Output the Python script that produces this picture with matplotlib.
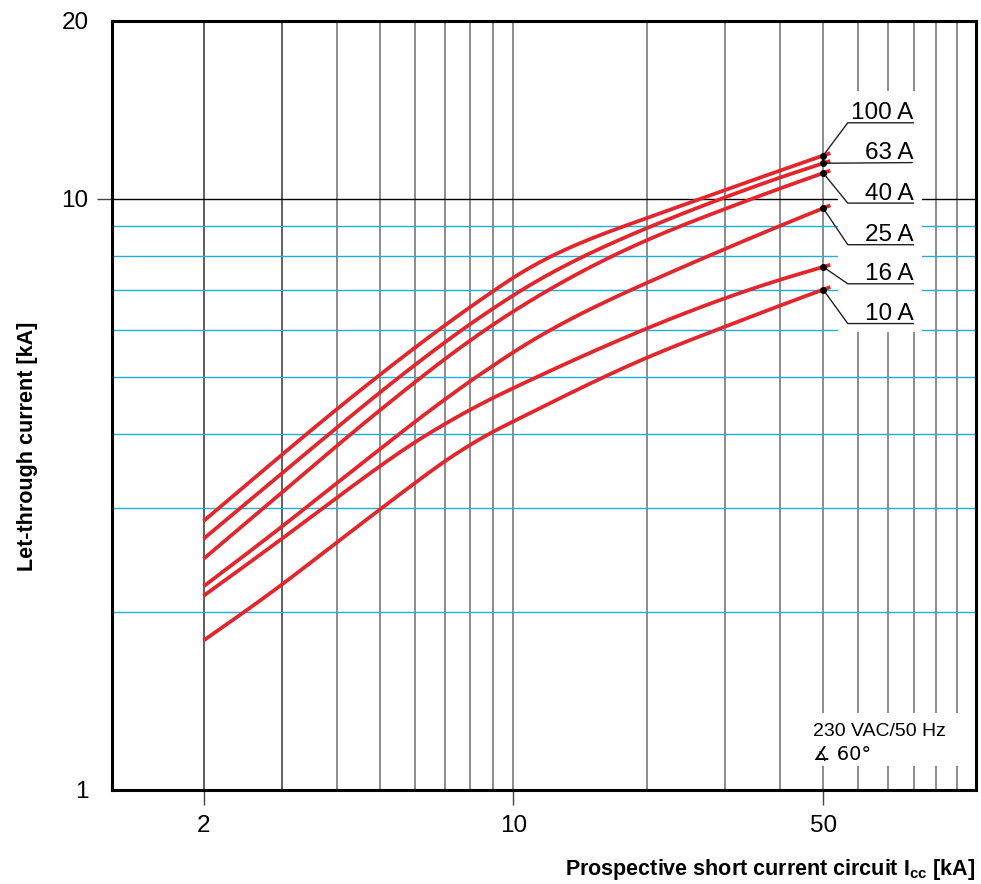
import numpy as np
import matplotlib
matplotlib.use("Agg")
import matplotlib.pyplot as plt
from matplotlib.patches import Rectangle

plt.rcParams['font.family'] = ['Liberation Sans', 'DejaVu Sans']
plt.rcParams['mathtext.fontset'] = 'custom'
plt.rcParams['mathtext.rm'] = 'Liberation Sans'
plt.rcParams['mathtext.bf'] = 'Liberation Sans:bold'

# ---- data (let-through current in kA) ----
icc = [2, 3, 4, 5, 6, 7, 8, 9, 10, 20, 30, 40, 50]
i_100 = [2.85, 3.686, 4.408, 5.038, 5.600, 6.104, 6.561, 6.975, 7.353, 9.273, 10.34, 11.16, 11.83]
i_63 = [2.66, 3.429, 4.102, 4.702, 5.236, 5.713, 6.140, 6.520, 6.865, 8.917, 10.05, 10.86, 11.48]
i_40 = [2.46, 3.182, 3.821, 4.388, 4.895, 5.353, 5.760, 6.124, 6.448, 8.507, 9.607, 10.41, 11.05]
i_25 = [2.21, 2.787, 3.305, 3.771, 4.195, 4.574, 4.915, 5.220, 5.500, 7.205, 8.221, 9.00, 9.636]
i_16 = [2.13, 2.658, 3.122, 3.529, 3.874, 4.157, 4.398, 4.604, 4.783, 6.033, 6.785, 7.294, 7.667]
i_10 = [1.79, 2.224, 2.624, 2.982, 3.306, 3.595, 3.836, 4.035, 4.201, 5.383, 6.075, 6.597, 7.018]
series = [i_100, i_63, i_40, i_25, i_16, i_10]
labels = ["100 A", "63 A", "40 A", "25 A", "16 A", "10 A"]
label_y = [13.44, 11.51, 9.83, 8.36, 7.18, 6.15]

x_ticks = [2, 10, 50]
y_ticks = [1, 10, 20]
x_grid = [2, 3, 4, 5, 6, 7, 8, 9, 10, 20, 30, 40, 50, 60, 70, 80, 90, 100]
y_grid_cyan = [2, 3, 4, 5, 6, 7, 8, 9]

RED = '#e3262b'
CYAN = '#1eaee2'


def natural_spline(x, y, xn):
    """Natural cubic spline through (x, y); linear beyond the last point."""
    x = np.asarray(x, float)
    y = np.asarray(y, float)
    n = len(x)
    h = np.diff(x)
    A = np.zeros((n, n))
    r = np.zeros(n)
    A[0, 0] = A[-1, -1] = 1.0
    for i in range(1, n - 1):
        A[i, i - 1] = h[i - 1]
        A[i, i] = 2 * (h[i - 1] + h[i])
        A[i, i + 1] = h[i]
        r[i] = 6 * ((y[i + 1] - y[i]) / h[i] - (y[i] - y[i - 1]) / h[i - 1])
    M = np.linalg.solve(A, r)
    out = np.empty_like(xn)
    for j, xv in enumerate(xn):
        if xv >= x[-1]:
            k = n - 2
            slope = (y[-1] - y[-2]) / h[-1] + h[-1] * (2 * M[-1] + M[-2]) / 6
            out[j] = y[-1] + slope * (xv - x[-1])
            continue
        k = min(max(np.searchsorted(x, xv, side='right') - 1, 0), n - 2)
        a = x[k + 1] - xv
        b = xv - x[k]
        out[j] = (M[k] * a**3 / (6 * h[k]) + M[k + 1] * b**3 / (6 * h[k])
                  + (y[k] / h[k] - M[k] * h[k] / 6) * a
                  + (y[k + 1] / h[k] - M[k + 1] * h[k] / 6) * b)
    return out


fig = plt.figure(figsize=(9.81, 8.84), dpi=100)
ax = fig.add_axes([112/981, 1-790/884, (975.7-112)/981, (790-20.7)/884])
ax.set_xscale('log')
ax.set_yscale('log')
ax.set_xlim(1.243, 110.4)
ax.set_ylim(1, 20)

# grid
for g in x_grid:
    col = '#333333' if g in (2, 3) else '#6e6e6e'
    ax.axvline(g, color=col, lw=1.1, zorder=1)
for g in y_grid_cyan:
    ax.axhline(g, color=CYAN, lw=1.0, zorder=1)
ax.axhline(10, color='black', lw=1.0, zorder=1)

# white boxes behind labels
ax.add_patch(Rectangle((53.97, 5.95), 83.7-53.97, 15.19-5.95, facecolor='white',
                       edgecolor='none', zorder=2))
ax.add_patch(Rectangle((43.2, 1.10), 120-43.2, 1.348-1.10, facecolor='white',
                       edgecolor='none', zorder=2))

# curves (smooth rendering through the read points, log-log space)
lx = np.log10(icc)
xs = np.linspace(lx[0], lx[-1] + 0.016, 400)
for s, lab, ly in zip(series, labels, label_y):
    ls = np.log10(s)
    ys = natural_spline(lx, ls, xs)
    ax.plot(10**xs, 10**ys, color=RED, lw=2.7, solid_capstyle='butt', zorder=3)
    ax.plot([icc[-1]], [s[-1]], 'o', color='black', ms=4, zorder=4)
    if lab == "63 A":
        ax.plot([icc[-1], 79.3], [s[-1], ly], color='#222222', lw=1.0, zorder=3)
    else:
        ax.plot([icc[-1], 56.8, 79.8], [s[-1], ly, ly], color='#222222', lw=1.0, zorder=3)
    ax.annotate(lab, (79.8, ly), xytext=(0, 2.5), textcoords='offset points',
                ha='right', va='baseline', fontsize=17.5, zorder=5)

ax.text(47.5, 1.232, "230 VAC/50 Hz", fontsize=14, ha='left', va='baseline', zorder=5)
ax.text(47.5, 1.125, "\u2221 60\u00b0", fontsize=14, ha='left', va='baseline', zorder=5,
        family=['DejaVu Sans', 'Liberation Sans'])

# ticks
ax.minorticks_off()
ax.set_xticks(x_ticks)
ax.set_xticklabels([str(v) for v in x_ticks])
ax.set_yticks(y_ticks)
ax.set_yticklabels([str(v) for v in y_ticks])
ax.minorticks_off()
ax.tick_params(axis='x', direction='out', length=11, width=1.0, color='#444444',
               pad=7, labelsize=17.5)
ax.tick_params(axis='y', direction='out', length=11, width=1.0, color='#444444',
               pad=6, labelsize=17.5)
yt = ax.yaxis.get_major_ticks()
yt[0].tick1line.set_visible(False)
yt[2].tick1line.set_visible(False)

for sp in ax.spines.values():
    sp.set_linewidth(2.2)
    sp.set_zorder(6)

fig.text(975/981, 1-875/884, r"Prospective short current circuit I$_{\mathbf{cc}}$ [kA]",
         ha='right', va='baseline', fontsize=15.5, fontweight='bold')
fig.text(28/981, 1-446.7/884, "Let-through current [kA]", rotation=90,
         ha='center', va='center', fontsize=15.5, fontweight='bold')

fig.savefig('out.png', dpi=100)
